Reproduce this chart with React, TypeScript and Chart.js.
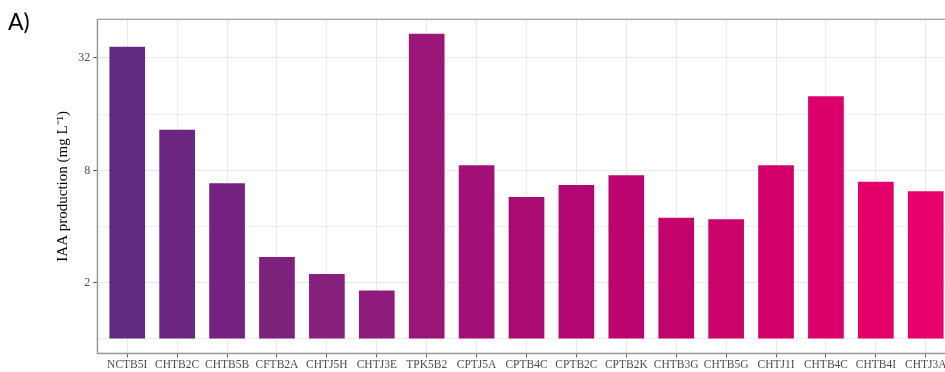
import React, { useEffect, useRef } from "react";
import { Chart, registerables } from "chart.js";

Chart.register(...registerables);

const categories = [
  "NCTB5I", "CHTB2C", "CHTB5B", "CFTB2A", "CHTJ5H", "CHTJ3E", "TPK5B2", "CPTJ5A",
  "CPTB4C", "CPTB2C", "CPTB2K", "CHTB3G", "CHTB5G", "CHTJ1I", "CHTB4C", "CHTB4I", "CHTJ3A",
];
const iaaValues = [
  36.8, 13.2, 6.82, 2.75, 2.23, 1.82, 43.2, 8.52,
  5.76, 6.68, 7.53, 4.46, 4.38, 8.52, 20.0, 6.96, 6.18,
];
const barColors = [
  "#632a82", "#6c2580", "#74227f", "#7d217d", "#86207c", "#8e1c7a", "#991678", "#a20f75",
  "#aa0b73", "#b20670", "#bb046e", "#c3036c", "#cb026b", "#d4006a", "#dc006a", "#e3006a", "#ea006b",
];
const yTickValues = [1, 2, 4, 8, 16, 32];
const yLabelled = [2, 8, 32];

const W = 962;
const H = 372;

export default function App() {
  const ref = useRef<HTMLCanvasElement>(null);
  useEffect(() => {
    if (!ref.current) return;
    const borderPlugin = {
      id: "panelBorder",
      afterDraw(chart: any) {
        const { ctx, chartArea } = chart;
        ctx.save();
        ctx.strokeStyle = "#9a9a9a";
        ctx.lineWidth = 1.2;
        ctx.strokeRect(chartArea.left, chartArea.top, chartArea.right - chartArea.left, chartArea.bottom - chartArea.top);
        ctx.fillStyle = "#000";
        ctx.font = "23px Lato";
        ctx.textBaseline = "alphabetic";
        ctx.textAlign = "left";
        ctx.fillText("A)", 8, 29.5);
        ctx.restore();
      },
    };
    const chart = new Chart(ref.current, {
      type: "bar",
      data: {
        datasets: [
          {
            data: iaaValues.map((v, i) => ({ x: i, y: v })),
            backgroundColor: barColors,
            base: 1,
            barPercentage: 0.715,
            categoryPercentage: 1,
            borderWidth: 0,
          } as any,
        ],
      },
      plugins: [borderPlugin],
      options: {
        animation: false,
        responsive: false,
        layout: { padding: { left: 0, right: 6.3, top: 19.3, bottom: 0 } },
        plugins: { legend: { display: false }, tooltip: { enabled: false } },
        scales: {
          x: {
            type: "linear",
            min: -0.6,
            max: 16.6,
            offset: false,
            afterBuildTicks: (scale: any) => {
              scale.ticks = categories.map((_, i) => ({ value: i }));
            },
            afterFit: (scale: any) => {
              scale.height = 18.7;
            },
            ticks: {
              callback: (v: any) => categories[v] ?? "",
              font: { family: "Liberation Serif", size: 11.5 },
              color: "#4d4d4d",
              padding: 1,
              maxRotation: 0,
              autoSkip: false,
            },
            grid: {
              offset: false,
              color: "#eaeaea",
              lineWidth: 1,
              drawTicks: true,
              tickLength: 4,
              tickColor: "#555",
            },
            border: { display: true, color: "#9a9a9a", width: 1.2 },
          },
          y: {
            type: "logarithmic",
            min: 0.838,
            max: 51.6,
            afterBuildTicks: (scale: any) => {
              scale.ticks = yTickValues.map((v) => ({ value: v }));
            },
            afterFit: (scale: any) => {
              scale.width = 97.3;
            },
            ticks: {
              callback: (v: any) => (yLabelled.includes(Number(v)) ? String(v) : ""),
              font: { family: "Liberation Serif", size: 12 },
              color: "#4d4d4d",
              padding: 3,
              autoSkip: false,
            },
            grid: {
              color: "#eaeaea",
              lineWidth: (ctx: any) => (yLabelled.includes(ctx.tick?.value) ? 1.1 : 0.8),
              drawTicks: true,
              tickLength: 4,
              tickColor: (ctx: any) => (yLabelled.includes(ctx.tick?.value) ? "#555" : "rgba(0,0,0,0)"),
            },
            border: { display: true, color: "#9a9a9a", width: 1.2 },
            title: {
              display: true,
              text: "IAA production (mg L\u207B\u00B9)",
              font: { family: "Liberation Serif", size: 15 },
              color: "#000",
              padding: { top: 54, bottom: 0 },
            },
          },
        },
      } as any,
    });
    return () => chart.destroy();
  }, []);
  return (
    <div style={{ position: "fixed", left: 0, top: 0, width: 945, height: H, overflow: "hidden", background: "#fff" }}>
      <canvas ref={ref} width={W} height={H} style={{ display: "block", width: W, height: H }} />
    </div>
  );
}
